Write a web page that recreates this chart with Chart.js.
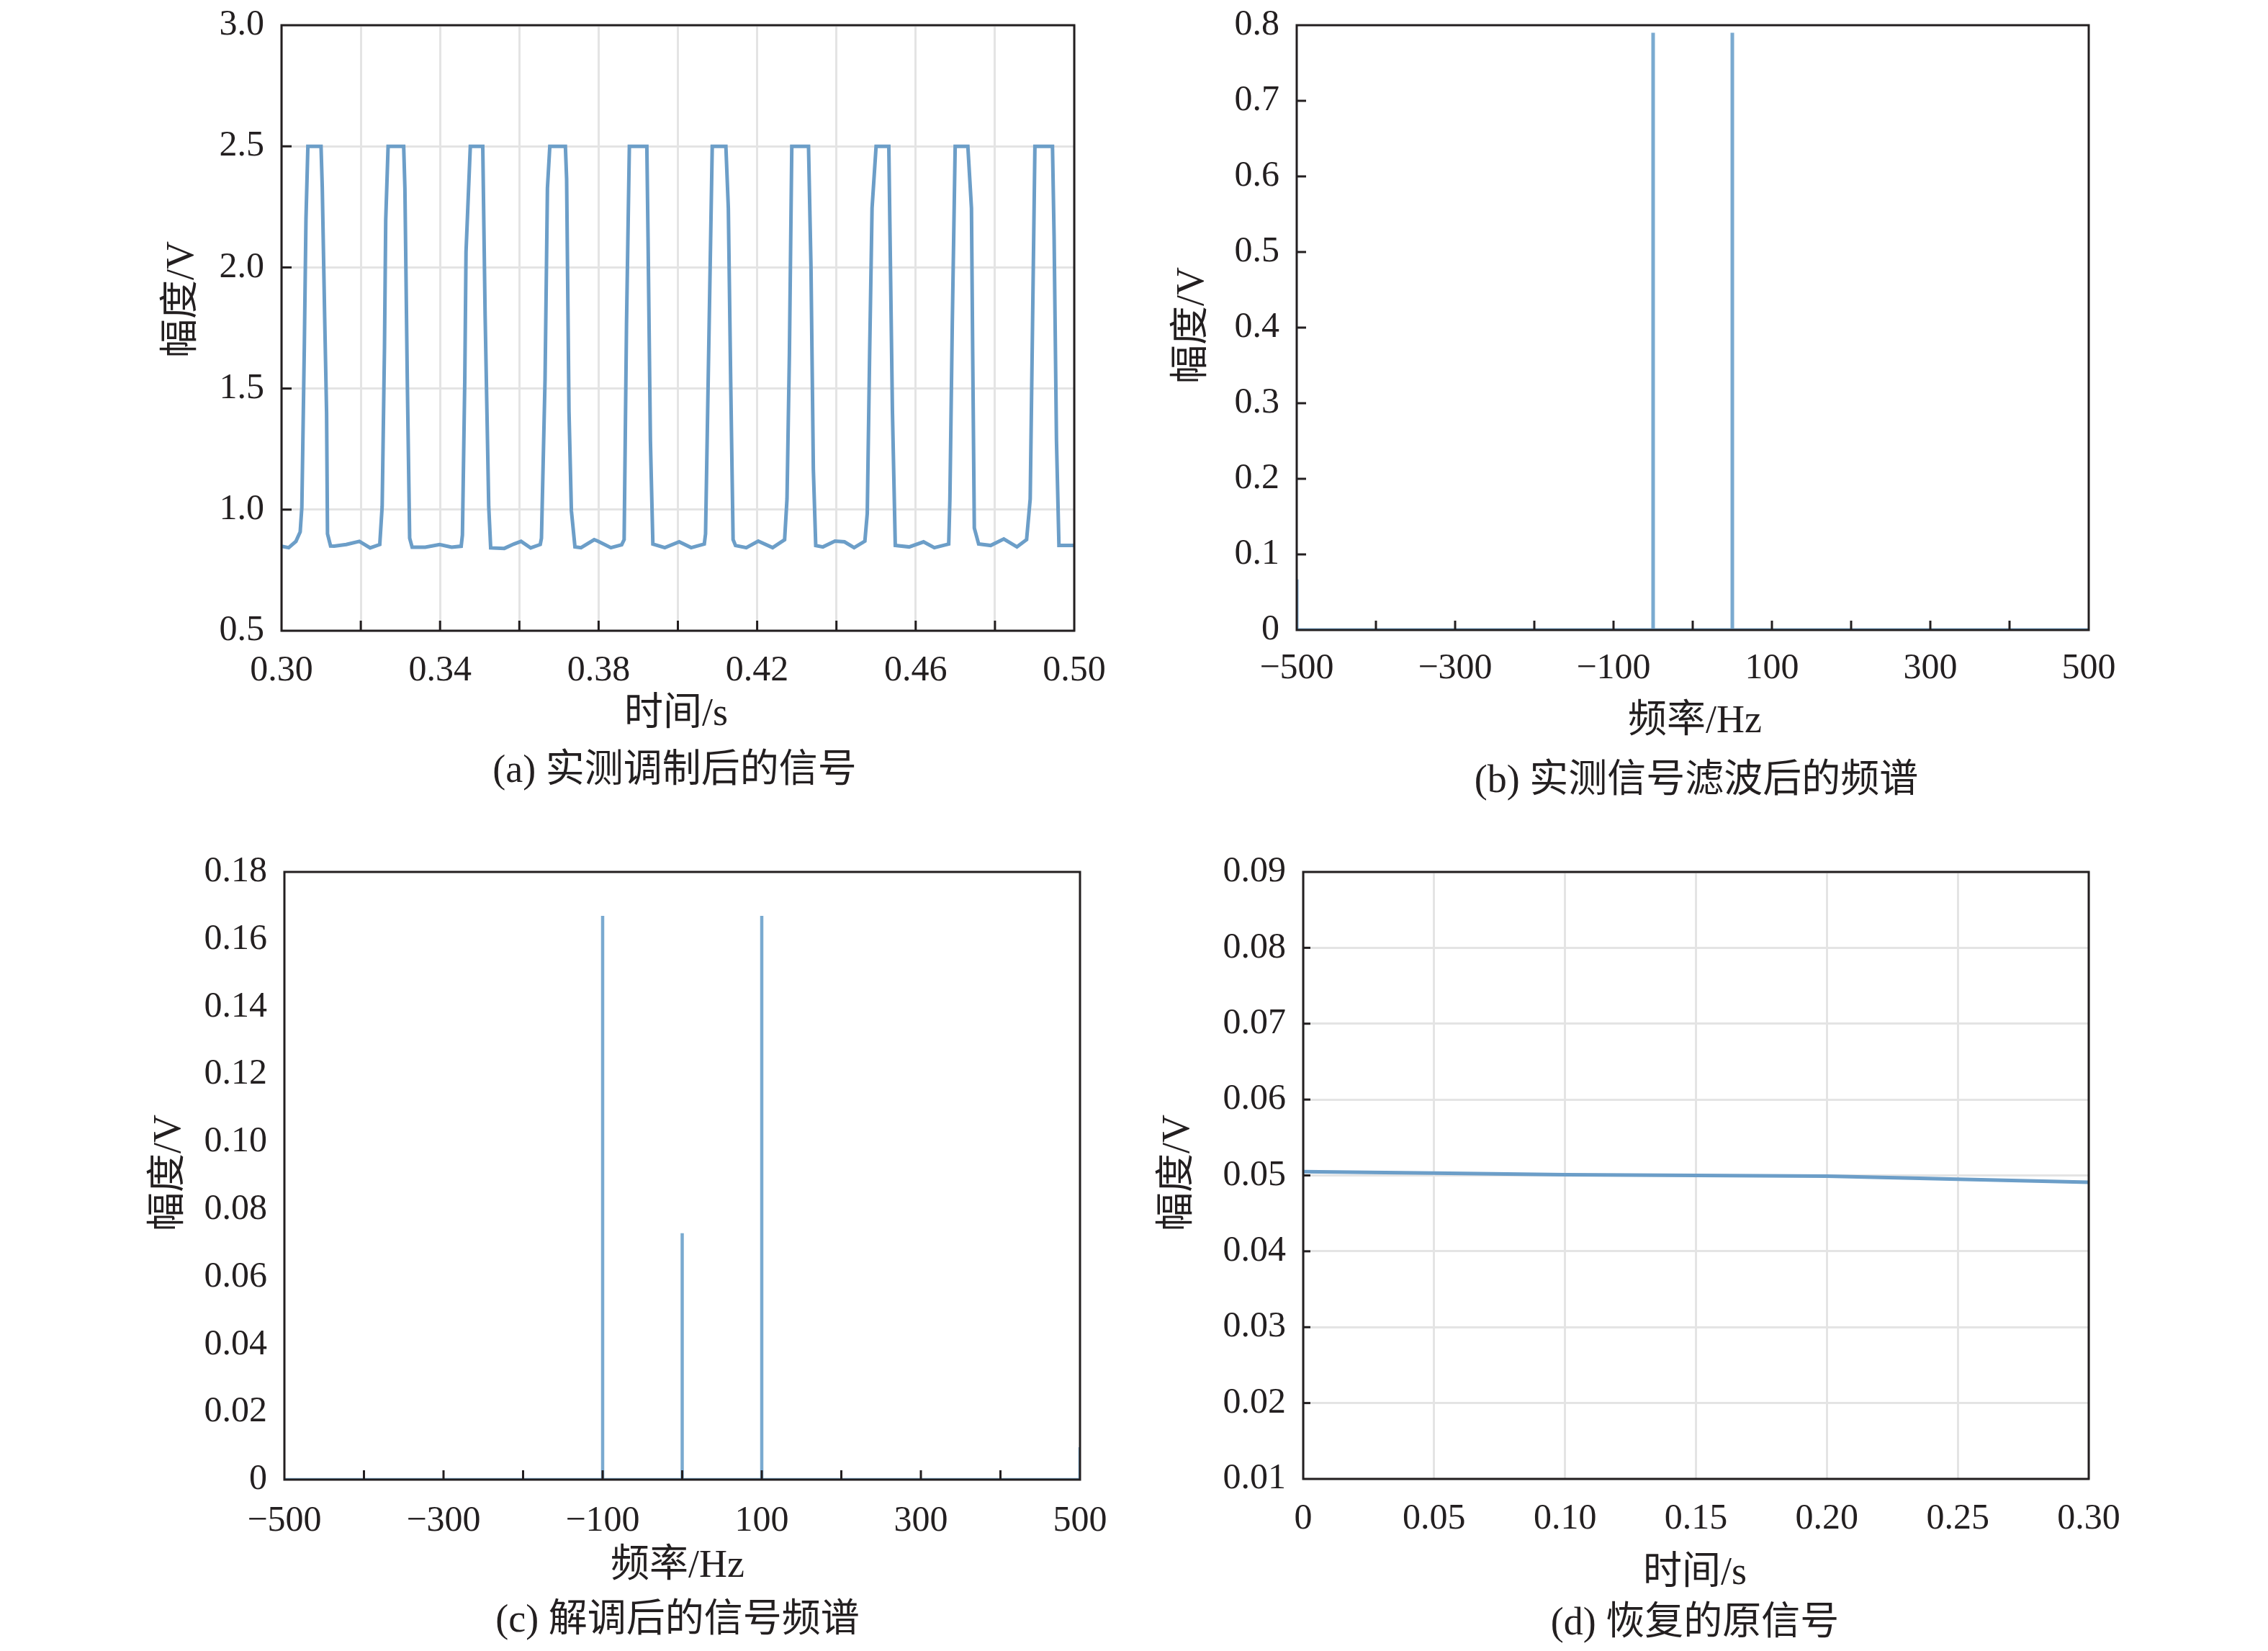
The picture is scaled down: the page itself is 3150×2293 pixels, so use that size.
<!DOCTYPE html>
<html>
<head>
<meta charset="utf-8">
<script src="https://cdn.jsdelivr.net/npm/chart.js@4.4.1/dist/chart.umd.min.js"></script>
<style>
body { margin: 0; background: #fff; }
#page { position: relative; width: 3150px; height: 2293px; background: #fff; overflow: hidden;
        font-family: 'Liberation Serif', 'Noto Sans CJK SC', serif; color: #231f20; }
.cv { position: absolute; left: 0; top: 0; width: 3150px; height: 2293px; }
.lbl { position: absolute; font-size: 54px; line-height: 1; white-space: nowrap; transform: translate(-50%, -50%); }
.rot { transform: translate(-50%, -50%) rotate(-90deg); }
</style>
</head>
<body>
<div id="page">
  <div class="cv"><canvas id="chartA"></canvas></div>
  <div class="cv"><canvas id="chartB"></canvas></div>
  <div class="cv"><canvas id="chartC"></canvas></div>
  <div class="cv"><canvas id="chartD"></canvas></div>

  <div class="lbl rot" style="left:250px;top:416px">幅度/V</div>
  <div class="lbl" style="left:939px;top:989px">时间/s</div>
  <div class="lbl" style="left:937px;top:1068px">(a) 实测调制后的信号</div>

  <div class="lbl rot" style="left:1653px;top:452px">幅度/V</div>
  <div class="lbl" style="left:2354px;top:999px">频率/Hz</div>
  <div class="lbl" style="left:2356px;top:1082px">(b) 实测信号滤波后的频谱</div>

  <div class="lbl rot" style="left:232px;top:1629px">幅度/V</div>
  <div class="lbl" style="left:941px;top:2172px">频率/Hz</div>
  <div class="lbl" style="left:941px;top:2248px">(c) 解调后的信号频谱</div>

  <div class="lbl rot" style="left:1633px;top:1629px">幅度/V</div>
  <div class="lbl" style="left:2354px;top:2182px">时间/s</div>
  <div class="lbl" style="left:2354px;top:2252px">(d) 恢复的原信号</div>
</div>
<script>
// (a) measured modulated signal
var timeA = [0.30000, 0.30181, 0.30363, 0.30471, 0.30513, 0.30575, 0.30617, 0.30665, 0.30997, 0.31028, 0.31088, 0.31137, 0.31160, 0.31238, 0.31329, 0.31632, 0.31964, 0.32236, 0.32479,
  0.32539, 0.32598, 0.32629, 0.32689, 0.33082, 0.33113, 0.33173, 0.33233, 0.33295,
  0.33626, 0.33989, 0.34292, 0.34533,
  0.34564, 0.34624, 0.34655, 0.34763, 0.35077, 0.35137, 0.35228, 0.35277,
  0.35621, 0.35862, 0.36044, 0.36287, 0.36528,
  0.36558, 0.36649, 0.36709, 0.36769, 0.37162, 0.37193, 0.37253, 0.37313, 0.37403,
  0.37556, 0.37888, 0.37978, 0.38310, 0.38582,
  0.38644, 0.38704, 0.38776, 0.39217, 0.39247, 0.39307, 0.39369,
  0.39670, 0.40033, 0.40335, 0.40667,
  0.40698, 0.40789, 0.40867, 0.41211, 0.41273, 0.41333, 0.41393, 0.41454,
  0.41726, 0.42027, 0.42390, 0.42693,
  0.42753, 0.42814, 0.42874, 0.43296, 0.43358, 0.43418, 0.43478,
  0.43659, 0.43962, 0.44203, 0.44446, 0.44718,
  0.44778, 0.44838, 0.44899, 0.45001, 0.45322, 0.45353, 0.45413, 0.45485,
  0.45835, 0.46198, 0.46470, 0.46833,
  0.46863, 0.46923, 0.46996, 0.47316, 0.47407, 0.47438, 0.47479, 0.47588,
  0.47891, 0.48223, 0.48555, 0.48798,
  0.48889, 0.48948, 0.49008, 0.49451, 0.49492, 0.49552, 0.49614, 0.50000];
var voltA = [0.849, 0.843, 0.869, 0.908, 1.01, 1.67, 2.2, 2.5, 2.5, 2.33, 1.8, 1.4, 0.9, 0.85, 0.849, 0.856, 0.869, 0.842, 0.856,
  1.013, 1.67, 2.195, 2.5, 2.5, 2.327, 1.539, 0.882, 0.845,
  0.845, 0.856, 0.845, 0.849,
  0.895, 1.539, 2.064, 2.5, 2.5, 1.801, 1.013, 0.842,
  0.840, 0.858, 0.869, 0.842, 0.856,
  0.882, 1.539, 2.327, 2.5, 2.5, 2.365, 1.405, 0.996, 0.846,
  0.843, 0.876, 0.870, 0.843, 0.855,
  0.876, 1.765, 2.5, 2.5, 2.125, 1.285, 0.858,
  0.843, 0.867, 0.843, 0.858,
  0.900, 1.765, 2.5, 2.5, 2.245, 1.525, 0.876, 0.852,
  0.843, 0.870, 0.843, 0.876,
  1.044, 1.645, 2.5, 2.5, 2.005, 1.165, 0.852,
  0.846, 0.870, 0.867, 0.843, 0.870,
  0.984, 1.645, 2.245, 2.5, 2.5, 2.125, 1.405, 0.852,
  0.846, 0.867, 0.843, 0.858,
  1.044, 1.765, 2.5, 2.5, 2.245, 1.645, 0.924, 0.858,
  0.852, 0.879, 0.846, 0.876,
  1.044, 1.765, 2.5, 2.5, 2.125, 1.285, 0.852, 0.852];

// (b) filtered spectrum
var freqB = [-500, -500, -50, -50, -50, 50, 50, 50, 500];
var ampB  = [0.067, 0, 0, 0.79, 0, 0, 0.79, 0, 0];

// (c) demodulated spectrum
var freqC = [-500, -100, -100, -100, 0, 0, 0, 100, 100, 100, 500, 500];
var ampC  = [0, 0, 0.167, 0, 0, 0.073, 0, 0, 0.167, 0, 0, 0.0096];

// (d) recovered signal
var timeD = [0, 0.05, 0.10, 0.15, 0.20, 0.25, 0.30];
var voltD = [0.0505, 0.0503, 0.0501, 0.0500, 0.0499, 0.0495, 0.0491];

var INK = '#231f20';
var FONT = "'Liberation Serif', 'Noto Sans CJK SC', serif";
var W = 3150, H = 2293;

function toPoints(xs, ys) {
  return xs.map(function (x, i) { return { x: x, y: ys[i] }; });
}

function minus(v) {
  return v < 0 ? '\u2212' + Math.abs(v) : String(v);
}

// frame and inward tick marks
var framePlugin = {
  id: 'frame',
  afterDraw: function (chart, args, opts) {
    var a = chart.chartArea, ctx = chart.ctx;
    ctx.save();
    ctx.strokeStyle = INK;
    ctx.lineWidth = 3;
    if (opts.tickX) {
      chart.scales.x.ticks.forEach(function (t) {
        var px = chart.scales.x.getPixelForValue(t.value);
        if (px <= a.left + 2 || px >= a.right - 2) return;
        ctx.beginPath(); ctx.moveTo(px, a.bottom); ctx.lineTo(px, a.bottom - opts.tickX); ctx.stroke();
      });
    }
    if (opts.tickY) {
      chart.scales.y.ticks.forEach(function (t) {
        var py = chart.scales.y.getPixelForValue(t.value);
        if (py <= a.top + 2 || py >= a.bottom - 2) return;
        ctx.beginPath(); ctx.moveTo(a.left, py); ctx.lineTo(a.left + opts.tickY, py); ctx.stroke();
      });
    }
    ctx.strokeRect(a.left, a.top, a.right - a.left, a.bottom - a.top);
    ctx.restore();
  }
};

function makeChart(id, rect, pts, sx, sy, grid, ticks, lineW, color) {
  var yW = 170, xH = 100;
  return new Chart(document.getElementById(id), {
    type: 'line',
    data: { datasets: [{ data: pts, borderColor: color, borderWidth: lineW, pointRadius: 0, tension: 0, fill: false }] },
    plugins: [framePlugin],
    options: {
      responsive: true,
      maintainAspectRatio: false,
      devicePixelRatio: 1,
      animation: false,
      events: [],
      layout: { padding: { left: rect[0] - yW, right: W - rect[1], top: rect[2], bottom: H - rect[3] - xH } },
      plugins: { legend: { display: false }, tooltip: { enabled: false }, frame: ticks },
      scales: {
        x: {
          type: 'linear', min: sx.min, max: sx.max,
          afterFit: function (s) { s.height = xH; s.paddingLeft = 0; s.paddingRight = 0; },
          border: { display: false },
          grid: { display: grid.x, color: '#e4e4e4', lineWidth: 3, drawTicks: false },
          ticks: { stepSize: sx.step, autoSkip: false, maxRotation: 0, padding: sx.pad, color: INK,
                   font: { family: FONT, size: 50 }, callback: sx.fmt }
        },
        y: {
          type: 'linear', min: sy.min, max: sy.max,
          afterFit: function (s) { s.width = yW; s.paddingTop = 0; s.paddingBottom = 0; },
          border: { display: false },
          grid: { display: grid.y, color: '#e4e4e4', lineWidth: 3, drawTicks: false },
          ticks: { stepSize: sy.step, autoSkip: false, padding: 24, color: INK,
                   font: { family: FONT, size: 50 }, callback: sy.fmt }
        }
      }
    }
  });
}

makeChart('chartA', [391, 1492, 35, 876], toPoints(timeA, voltA),
  { min: 0.30, max: 0.50, step: 0.02, pad: 26,
    fmt: function (v) { var k = Math.round(v * 100); return k % 4 === 2 ? v.toFixed(2) : ''; } },
  { min: 0.5, max: 3.0, step: 0.5, fmt: function (v) { return v.toFixed(1); } },
  { x: true, y: true }, { tickX: 14, tickY: 14 }, 5, '#6c9ec8');

makeChart('chartB', [1801, 2901, 35, 875], toPoints(freqB, ampB),
  { min: -500, max: 500, step: 100, pad: 24,
    fmt: function (v) { var k = Math.round(v / 100); return Math.abs(k) % 2 === 1 ? minus(v) : ''; } },
  { min: 0, max: 0.8, step: 0.1, fmt: function (v) { return v === 0 ? '0' : v.toFixed(1); } },
  { x: false, y: false }, { tickX: 13, tickY: 13 }, 5, '#7aaad0');

makeChart('chartC', [395, 1500, 1211, 2055], toPoints(freqC, ampC),
  { min: -500, max: 500, step: 100, pad: 28,
    fmt: function (v) { var k = Math.round(v / 100); return Math.abs(k) % 2 === 1 ? minus(v) : ''; } },
  { min: 0, max: 0.18, step: 0.02, fmt: function (v) { return v === 0 ? '0' : v.toFixed(2); } },
  { x: false, y: false }, { tickX: 13, tickY: 0 }, 4.5, '#7aaad0');

makeChart('chartD', [1810, 2901, 1211, 2054], toPoints(timeD, voltD),
  { min: 0, max: 0.30, step: 0.05, pad: 26,
    fmt: function (v) { return v === 0 ? '0' : v.toFixed(2); } },
  { min: 0.01, max: 0.09, step: 0.01, fmt: function (v) { return v.toFixed(2); } },
  { x: true, y: true }, { tickX: 0, tickY: 10 }, 5, '#6c9ec8');
</script>
</body>
</html>
